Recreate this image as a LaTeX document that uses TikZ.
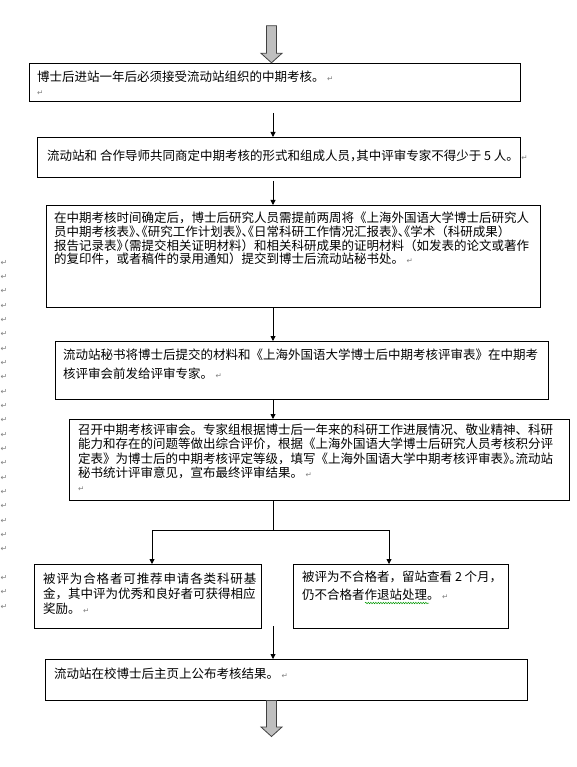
\documentclass[tikz,border=0pt]{standalone}
\usepackage{fontspec}
\newfontfamily\cjk{Noto Sans CJK SC}
\newfontfamily\cjkh[RawFeature=+halt]{Noto Sans CJK SC}
\newfontfamily\cjks[LetterSpace=7]{Noto Sans CJK SC}
\newfontfamily\djv{DejaVu Sans}
\usetikzlibrary{arrows.meta,decorations.pathmorphing,calc}
\newcommand\pmark{\hspace{2.5pt}{\djv\fontsize{7.5}{7.5}\selectfont\textcolor{black!50}{↵}}}
\newcommand\hp[1]{{\cjkh #1}}
\newcommand\garrow[3]{%
  \filldraw[fill=gray!50, draw=black!75, line width=0.8pt]
    (#1-5,#2) -- (#1+5,#2) -- (#1+5,#3) -- (#1+10.5,#3) -- (#1,#3+9.5)
    -- (#1-10.5,#3) -- (#1-5,#3) -- cycle;}
\begin{document}
\begin{tikzpicture}[x=1pt,y=-1pt,
  box/.style={draw, line width=0.9pt, anchor=north west, inner sep=0pt, outer sep=0pt},
  txt/.style={anchor=base west, inner sep=0pt, font=\cjk},
  arr/.style={-{Triangle[length=5pt,width=5pt]}, line width=0.9pt},
  ln/.style={line width=0.9pt},
  pm/.style={inner sep=0pt, font=\djv\fontsize{8}{8}\selectfont, text=black!50}]
\fill[white] (0,0) rectangle (576,767);
\useasboundingbox (0,0) rectangle (576,767);

% boxes
\node[box, minimum width=491pt, minimum height=38pt] (b1) at (29,63) {};
\node[box, minimum width=483pt, minimum height=40pt] (b2) at (37,137) {};
\node[box, minimum width=494pt, minimum height=102pt] (b3) at (46,205) {};
\node[box, minimum width=493pt, minimum height=58pt] (b4) at (55,341) {};
\node[box, minimum width=500pt, minimum height=81pt] (b5) at (69,419) {};
\node[box, minimum width=227pt, minimum height=64pt] (b6) at (34,564) {};
\node[box, minimum width=215pt, minimum height=64pt] (b7) at (293,564) {};
\node[box, minimum width=482pt, minimum height=41pt] (b8) at (45,659) {};

% texts
\node[txt] (t1) at (37,81.5) {\parbox[t]{490pt}{\fontsize{12.5}{14}\selectfont
博士后进站一年后必须接受流动站组织的中期考核。\pmark\\\pmark}};
\node[txt] (t2) at (47,160.5) {\parbox[t]{490pt}{\fontsize{12.5}{14}\selectfont
流动站和 合作导师共同商定中期考核的形式和组成人员\hp{，}其中评审专家不得少于 5 人。\pmark}};
\node[txt] (t3) at (54,222.5) {\parbox[t]{490pt}{\fontsize{12.5}{13.8}\selectfont
在中期考核时间确定后，博士后研究人员需提前两周将《上海外国语大学博士后研究人\\
员中期考核表\hp{》、《}研究工作计划表\hp{》、《}日常科研工作情况汇报表\hp{》、《}学术（科研成果）\\
报告记录表\hp{》（}需提交相关证明材料）和相关科研成果的证明材料（如发表的论文或著作\\
的复印件，或者稿件的录用通知）提交到博士后流动站秘书处。\pmark}};
\node[txt] (t4) at (63,359.5) {\parbox[t]{490pt}{\fontsize{12.5}{19}\selectfont
流动站秘书将博士后提交的材料和《上海外国语大学博士后中期考核评审表》在中期考\\
核评审会前发给评审专家。\pmark}};
\node[txt] (t5) at (78,434.5) {\parbox[t]{490pt}{\fontsize{12.5}{14.3}\selectfont
召开中期考核评审会。专家组根据博士后一年来的科研工作进展情况、敬业精神、科研\\
能力和存在的问题等做出综合评价，根据《上海外国语大学博士后研究人员考核积分评\\
定表》为博士后的中期考核评定等级，填写《上海外国语大学中期考核评审表\hp{》。}流动站\\
秘书统计评审意见，宣布最终评审结果。\pmark\\
\pmark}};
\node[txt] (t6) at (43,583.5) {\parbox[t]{490pt}{\fontsize{12.5}{15}\selectfont
{\cjks 被评为合格者可推荐申请各类科研基}\\
金，其中评为优秀和良好者可获得相应\\
奖励。\pmark}};
\node[txt] (t7) at (302,581.5) {\parbox[t]{490pt}{\fontsize{12.5}{17.7}\selectfont
被评为不合格者，留站查看 2 个月，\\
仍不合格者作退站处理。\pmark}};
\node[txt] (t8) at (54,678.5) {\parbox[t]{490pt}{\fontsize{12.5}{14}\selectfont
流动站在校博士后主页上公布考核结果。\pmark}};

% grammar squiggle
\draw[green!60!black, line width=0.5pt, decorate,
      decoration={snake, amplitude=0.7pt, segment length=2.5pt}] (365,603) -- (429,603);

% left margin paragraph marks
\foreach \i in {0,...,20} \node[pm] (m\i) at (4,262.7+14.33*\i) {↵};
\node[pm] (m21) at (4,578.3) {↵};
\node[pm] (m22) at (4,592.3) {↵};
\node[pm] (m23) at (4,606.7) {↵};

% block arrows
\garrow{271.5}{25.7}{53.3}
\garrow{271.5}{700.5}{727}

% connectors
\coordinate (ax) at (273,0);
\draw[arr, shorten <=12pt] (b1.south -| ax) -- (b2.north -| ax);
\draw[arr, shorten <=4pt] (b2.south -| ax) -- (b3.north -| ax);
\draw[arr] (b3.south -| ax) -- (b4.north -| ax);
\draw[arr] (b4.south -| ax) -- (b5.north -| ax);
\coordinate (j1) at (273,530);
\coordinate (jl) at (152,530);
\coordinate (jr) at (389,530);
\draw[ln] (b5.south -| ax) -- (j1);
\draw[ln] (jl) -- (jr);
\draw[arr] (jl) -- (b6.north -| jl);
\draw[arr] (jr) -- (b7.north -| jr);
\coordinate (j2) at (273,626);
\draw[arr] (j2) -- (b8.north -| ax);
\end{tikzpicture}
\end{document}
